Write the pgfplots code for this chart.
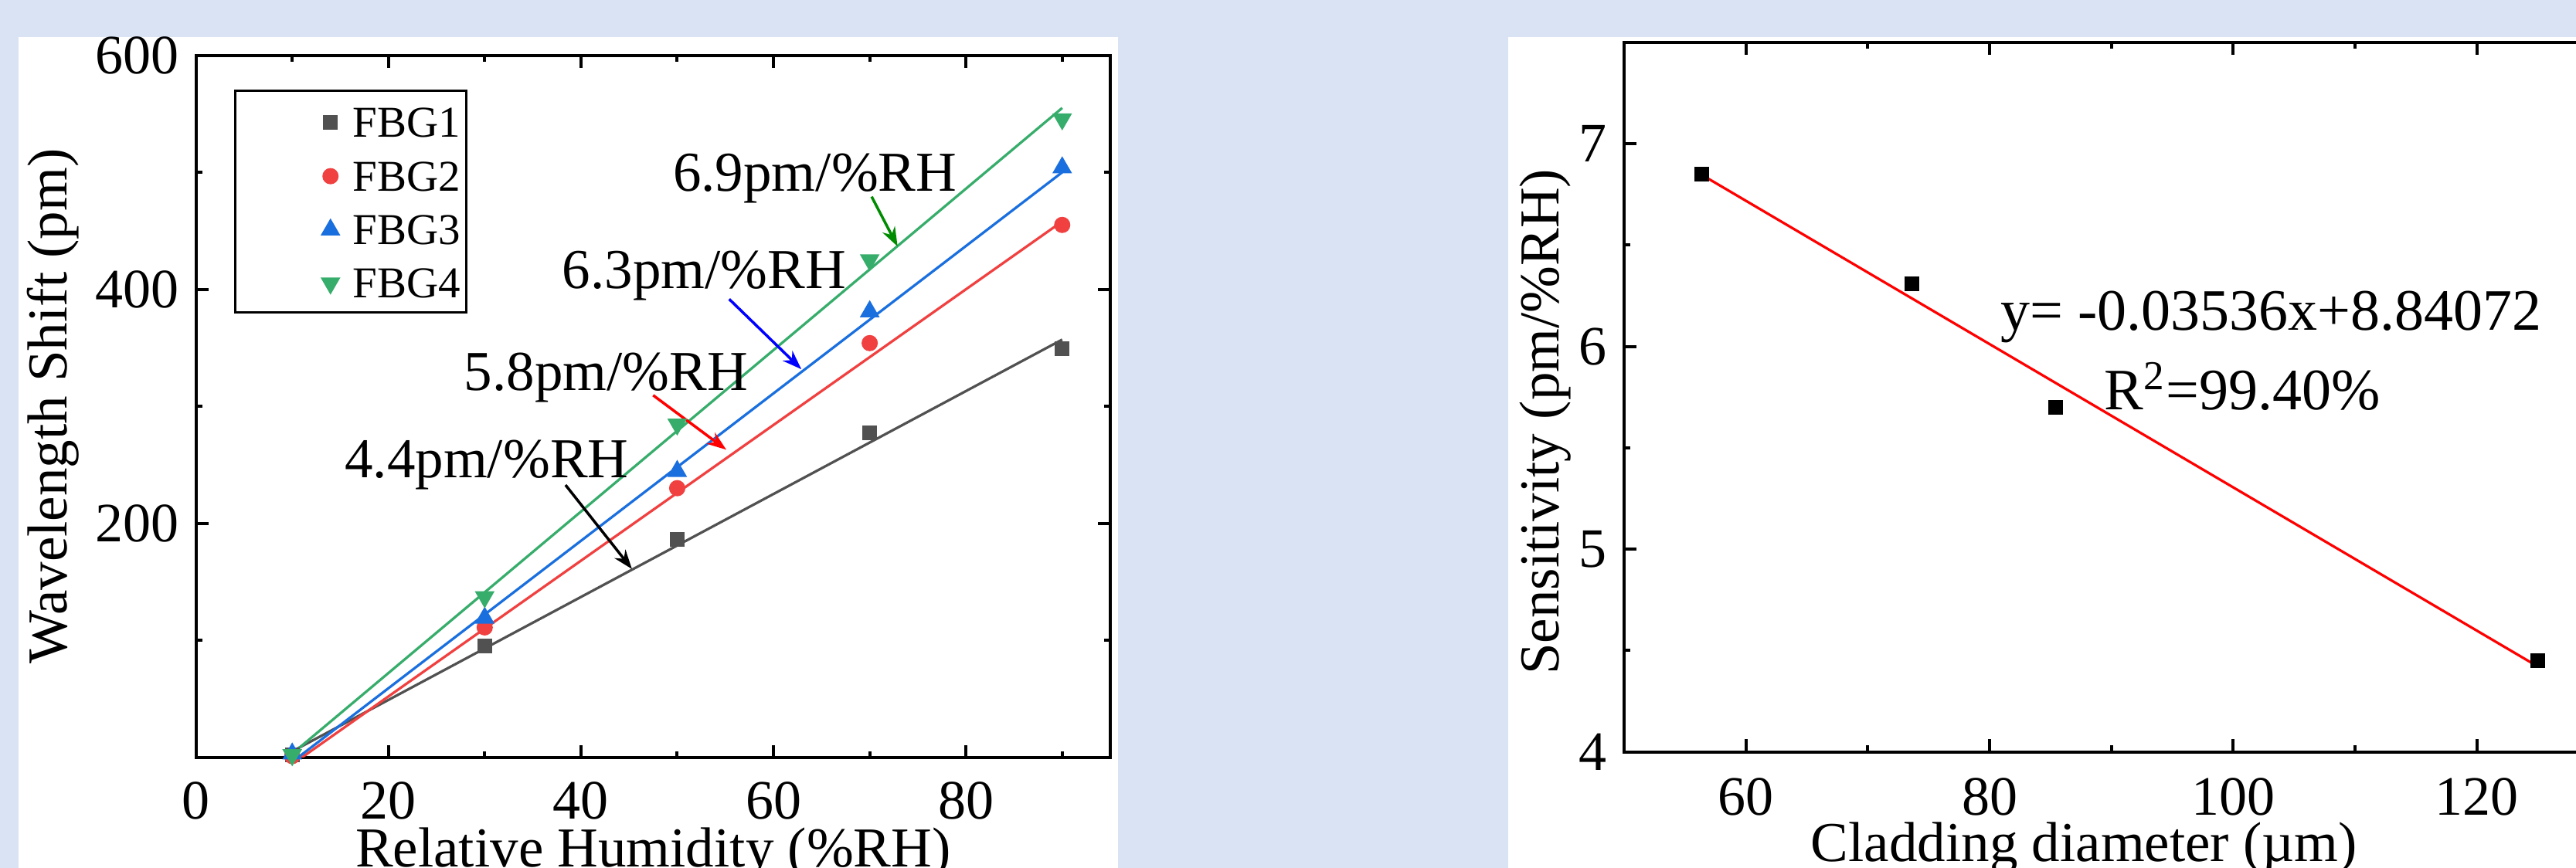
\documentclass[border=0pt]{standalone}
\usepackage{fontspec}
\setmainfont{Liberation Serif}
\usepackage{pgfplots}
\pgfplotsset{compat=1.18}
\usetikzlibrary{arrows.meta}

\definecolor{panelBg}{HTML}{DAE3F3}
\definecolor{fbgGray}{HTML}{515151}
\definecolor{fbgRed}{HTML}{F14040}
\definecolor{fbgBlue}{HTML}{1A6FDF}
\definecolor{fbgGreen}{HTML}{37AD6B}
\definecolor{arrGreen}{RGB}{0,140,0}

\pgfplotsset{
  originframe/.style={
    scale only axis, anchor=south west,
    axis line style={line width=0.8pt},
    tick style={black, line width=0.8pt},
    major tick length=3.2pt, minor tick length=1.6pt,
    tick align=inside, xtick pos=both, ytick pos=both,
    tick label style={font=\fontsize{14.4}{17}\selectfont, /pgf/number format/assume math mode=true},
    xticklabel style={anchor=north, inner sep=0pt, yshift=-6.2pt},
    yticklabel style={anchor=east, inner sep=0pt, xshift=-4.3pt},
    label style={font=\fontsize{14.6}{17}\selectfont},
  },
  markonly/.style={only marks,
    legend image code/.code={\path (-17.9pt,0pt) (9.6pt,0pt);
      \draw[mark repeat=2,mark phase=2,##1] plot coordinates {(0pt,3.8pt) (4.8pt,3.8pt) (9.6pt,3.8pt)};}},
  fitline/.style={line width=0.65pt, forget plot},
}
\newcommand\annfont{\fontsize{14.6}{17}\selectfont}

\begin{document}
\begin{tikzpicture}
\fill[panelBg] (0,0) rectangle (666.8pt,224.8pt);
\fill[white] (4.8pt,0) rectangle (289.4pt,215.2pt);
\fill[white] (390.4pt,0) rectangle (680pt,215.2pt);

% left: wavelength shift vs humidity
\begin{axis}[originframe,
  at={(50.72pt,28.68pt)}, width=236.7pt, height=181.8pt,
  xmin=0, xmax=95, ymin=0, ymax=600,
  xtick={0,20,40,60,80}, minor xtick={10,30,50,70,90},
  ytick={200,400,600}, minor ytick={100,300,500},
  xlabel={Relative Humidity (\%RH)},
  ylabel={Wavelength Shift (pm)},
  xlabel style={at={(axis description cs:0.5,-0.1566)}, anchor=base},
  ylabel style={at={(axis description cs:-0.1559,0.5)}, anchor=center},
  legend style={at={(rel axis cs:0.0417,0.951)}, anchor=north west,
    draw=black, line width=0.66pt, inner xsep=1.6pt, inner ysep=2.4pt,
    font=\fontsize{11.4}{13}\selectfont, row sep=2.87pt, column sep=0.6pt,
    cells={anchor=base west},
    nodes={inner sep=0pt, text height=9.6pt, text depth=1.4pt}},
]
\addplot[markonly, color=fbgGray, mark=square*, mark size=1.75pt, mark options={line width=0.3pt}]
  coordinates {(10,2) (30,95) (50,186) (70,277) (90,349)};
\addlegendentry{FBG1}
\addplot[markonly, color=fbgRed, mark=*, mark size=1.95pt, mark options={line width=0.3pt}]
  coordinates {(10,1) (30,111) (50,230) (70,354) (90,455)};
\addlegendentry{FBG2}
\addplot[markonly, color=fbgBlue, mark=triangle*, mark size=2.65pt, mark options={line width=0.3pt}]
  coordinates {(10,3) (30,119) (50,244.5) (70,381) (90,504)};
\addlegendentry{FBG3}
\addplot[markonly, color=fbgGreen, mark=triangle*, mark size=2.65pt, mark options={line width=0.3pt, rotate=180}]
  coordinates {(10,2) (30,137) (50,284.6) (70,425) (90,545.5)};
\addlegendentry{FBG4}

\addplot[fitline, fbgGray] coordinates {(10,5) (90,357)};
\addplot[fitline, fbgRed] coordinates {(10,-6) (90,458)};
\addplot[fitline, fbgBlue] coordinates {(10,-4) (90,500)};
\addplot[fitline, fbgGreen] coordinates {(10,3) (90,555)};

\node[anchor=base west, inner sep=0pt, font=\annfont] at (axis cs:49.5,484) {6.9pm/\%RH};
\node[anchor=base west, inner sep=0pt, font=\annfont] at (axis cs:38.0,401) {6.3pm/\%RH};
\node[anchor=base west, inner sep=0pt, font=\annfont] at (axis cs:27.8,313.6) {5.8pm/\%RH};
\node[anchor=base west, inner sep=0pt, font=\annfont] at (axis cs:15.4,239) {4.4pm/\%RH};
\draw[-{Stealth[length=5pt,width=3.6pt]}, arrGreen, line width=0.7pt] (axis cs:70.2,479.2) -- (axis cs:72.9,436.6);
\draw[-{Stealth[length=5pt,width=3.6pt]}, blue, line width=0.7pt] (axis cs:55.4,391.6) -- (axis cs:62.9,331.7);
\draw[-{Stealth[length=5pt,width=3.6pt]}, red, line width=0.7pt] (axis cs:47.5,309.4) -- (axis cs:55.1,262.9);
\draw[-{Stealth[length=5pt,width=3.6pt]}, black, line width=0.7pt] (axis cs:38.4,232.7) -- (axis cs:45.3,160.9);
\end{axis}

% right: sensitivity vs cladding diameter
\begin{axis}[originframe,
  at={(420.4pt,30.1pt)}, width=252.27pt, height=183.7pt,
  xmin=50, xmax=130, ymin=4, ymax=7.5,
  xtick={60,80,100,120}, minor xtick={70,90,110,130},
  ytick={4,5,6,7}, minor ytick={4.5,5.5,6.5,7.5},
  xticklabel style={yshift=-0.5pt},
  xlabel={Cladding diameter (µm)},
  ylabel={Sensitivity (pm/\%RH)},
  xlabel style={at={(axis description cs:0.472,-0.1551)}, anchor=base},
  ylabel style={at={(axis description cs:-0.0808,0.465)}, anchor=center},
]
\addplot[red, line width=0.65pt] coordinates {(56.4,6.846) (125,4.421)};
\addplot[only marks, black, mark=square*, mark size=1.75pt, mark options={line width=0.3pt}]
  coordinates {(56.4,6.85) (73.6,6.31) (85.4,5.70) (125,4.45)};
\node[anchor=base west, inner sep=0pt, font=\fontsize{15.2}{18}\selectfont] at (axis cs:80.87,6.08) {y= -0.03536x+8.84072};
\node[anchor=base west, inner sep=0pt, font=\fontsize{15.2}{18}\selectfont] at (axis cs:89.37,5.688) {R\textsuperscript{2}=99.40\%};
\end{axis}

\pgfresetboundingbox
\useasboundingbox (0,0) rectangle (666.8pt,224.8pt);
\end{tikzpicture}
\end{document}
